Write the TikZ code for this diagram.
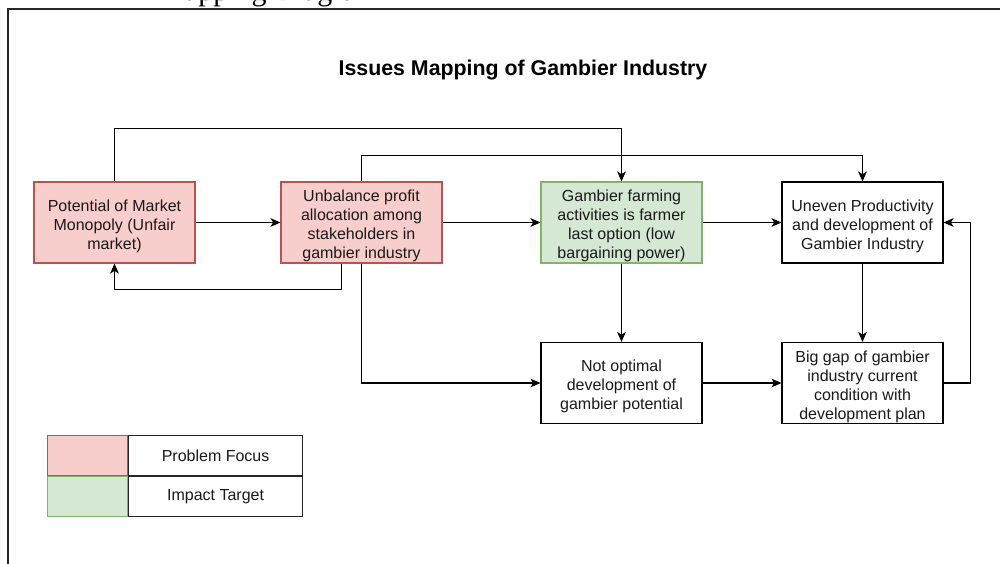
\documentclass[tikz,border=0pt]{standalone}
\usepackage{fontspec}
\setmainfont{Liberation Sans}
\newfontfamily\capserif{Liberation Serif}
\usetikzlibrary{arrows.meta}
\definecolor{redfill}{HTML}{F8CECC}
\definecolor{redline}{HTML}{B85450}
\definecolor{greenfill}{HTML}{D5E8D4}
\definecolor{greenline}{HTML}{82B366}
\newcommand{\toplift}{\rule{0pt}{14pt}}
\tikzset{
  box/.style={draw=black, line width=0.8pt, minimum width=120.75pt, minimum height=60.75pt,
    align=center, inner xsep=2pt, inner ysep=0pt, font=\fontsize{12}{14.3}\selectfont, text=black!90},
  redbox/.style={box, fill=redfill, draw=redline},
  greenbox/.style={box, fill=greenfill, draw=greenline},
  arr/.style={line width=0.8pt, -{Stealth[length=7.5pt,width=6.5pt,inset=2pt]}},
  legcell/.style={line width=0.8pt, minimum height=29.6pt, inner sep=0pt,
    font=\fontsize{12}{14.3}\selectfont, text=black!90},
}
\begin{document}
\begin{tikzpicture}[x=0.75pt, y=-0.75pt]
\useasboundingbox (0,0) rectangle (1000,564);
% cut-off caption above the frame
\begin{scope}
  \clip (0,0) rectangle (1000,8);
  \node[anchor=base west, inner sep=0pt, font=\capserif\fontsize{22.5}{27}\selectfont] (cap) at (158,0.5) {Mapping Diagram};
\end{scope}
% frame
\draw[line width=1.5pt, black!85] (8,564) -- (8,9) -- (1000,9);
% title
\node[font=\bfseries\fontsize{16}{19}\selectfont] (title) at (523,70) {Issues Mapping of Gambier Industry};
% boxes
\node[redbox] (A) at (114.5,222.5) {\toplift Potential of Market\\Monopoly (Unfair\\market)};
\node[redbox] (B) at (361.5,222.5) {\toplift Unbalance profit\\allocation among\\stakeholders in\\gambier industry};
\node[greenbox] (C) at (621.5,222.5) {\toplift Gambier farming\\activities is farmer\\last option (low\\bargaining power)};
\node[box] (D) at (862.5,222.5) {\toplift Uneven Productivity\\and development of\\Gambier Industry};
\node[box] (E) at (621.5,383) {\toplift Not optimal\\development of\\gambier potential};
\node[box] (F) at (862.5,383) {\toplift Big gap of gambier\\industry current\\condition with\\development plan};
% connectors
\draw[arr] (A) -- (B);
\draw[arr] (B) -- (C);
\draw[arr] (C) -- (D);
\draw[arr] (C) -- (E);
\draw[arr] (D) -- (F);
\draw[arr] (E) -- (F);
\draw[arr] (A.north) -- ++(0,-53) -| (C.north);
\draw[arr] (B.north) -- ++(0,-26) -| (D.north);
\draw[arr] ([xshift=-15pt]B.south) -- ++(0,26) -| (A.south);
\draw[arr] (B.south) |- (E.west);
\draw[arr] (F.east) -- ++(27,0) |- (D.east);
% legend
\node[legcell, draw=redline, fill=redfill, minimum width=59.6pt] (l1) at (87.5,455.6) {};
\node[legcell, draw=black!85, minimum width=130.9pt, anchor=west] (l2) at (l1.east) {Problem Focus};
\node[legcell, draw=greenline, fill=greenfill, minimum width=59.6pt, minimum height=30.4pt, anchor=north] (l3) at (l1.south) {};
\node[legcell, draw=black!85, minimum width=130.9pt, minimum height=30.4pt, anchor=west] (l4) at (l3.east) {Impact Target};
\end{tikzpicture}
\end{document}
